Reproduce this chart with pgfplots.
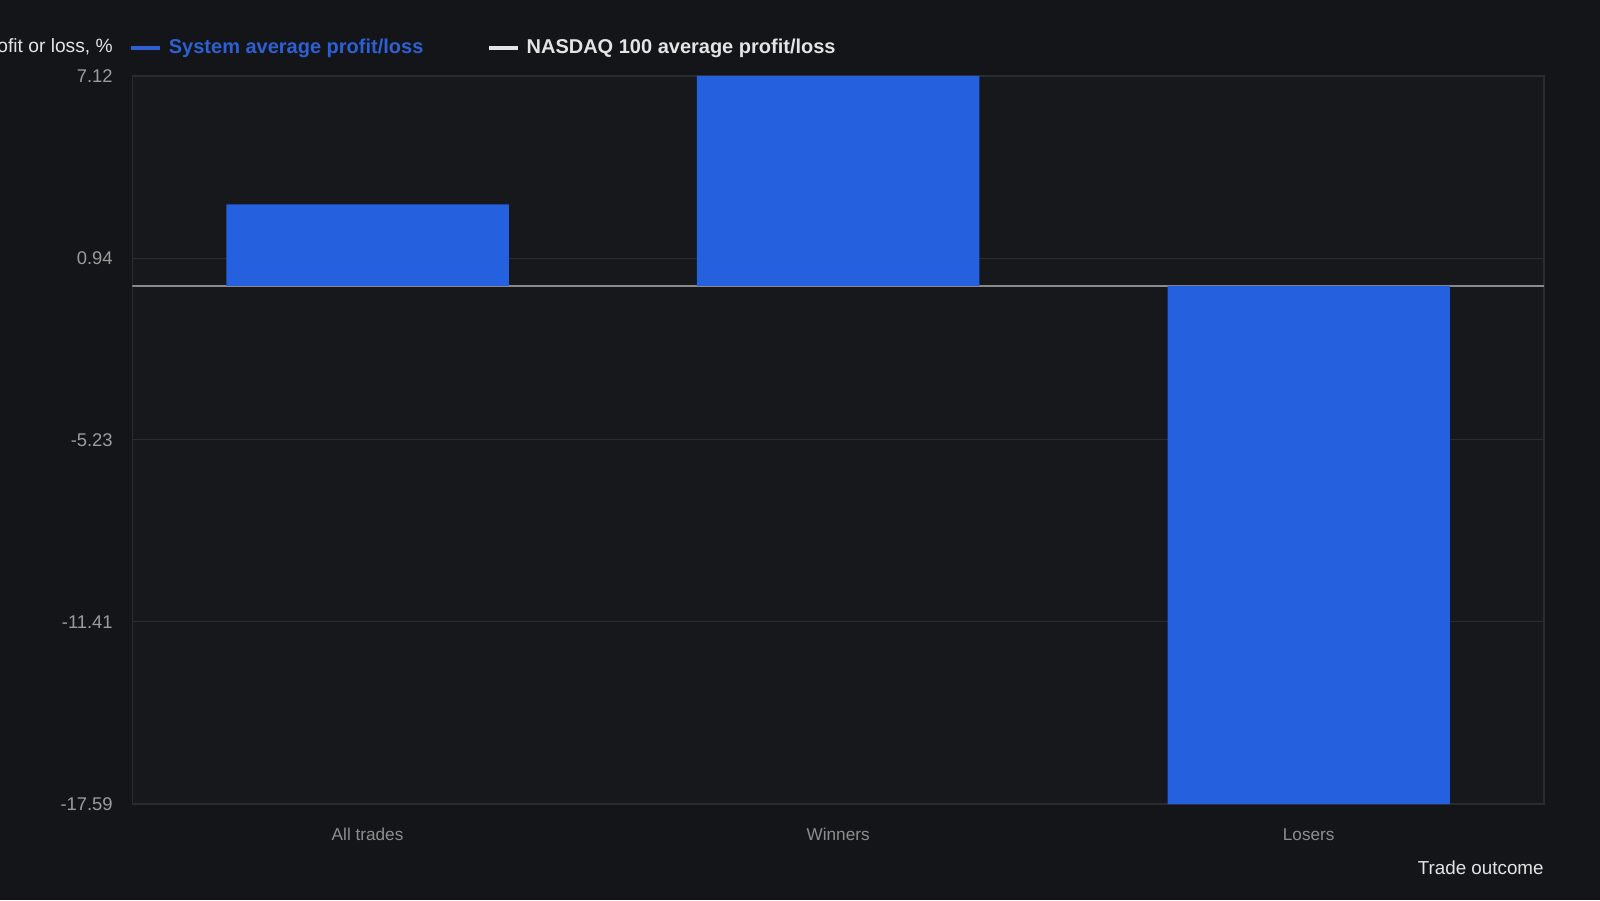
\documentclass[border=0pt]{standalone}
\usepackage{fontspec}
\setmainfont{Liberation Sans}
\usepackage{pgfplots}
\pgfplotsset{compat=1.18}

\definecolor{bg}{HTML}{131518}
\definecolor{plotbg}{HTML}{16181C}
\definecolor{gridc}{HTML}{2A2C30}
\definecolor{barblue}{HTML}{2560DE}
\definecolor{legblue}{HTML}{2D60D4}
\definecolor{ticktxt}{HTML}{9C9C9C}
\definecolor{xticktxt}{HTML}{8E8E8E}
\definecolor{labtxt}{HTML}{E4E4E4}
\definecolor{zeroc}{HTML}{8A8A8A}

\begin{document}
\begin{tikzpicture}
\useasboundingbox (0,0) rectangle (800pt,450pt);
\fill[bg] (0,0) rectangle (800pt,450pt);
\begin{axis}[
  at={(66.15pt,48pt)}, anchor=south west,
  scale only axis, width=705.85pt, height=364pt,
  xmin=-0.5, xmax=2.5,
  ymin=-17.59, ymax=7.12,
  xtick={0,1,2},
  xticklabels={All trades,Winners,Losers},
  ytick={7.12,0.94,-5.23,-11.41,-17.59},
  yticklabels={7.12,0.94,-5.23,-11.41,-17.59},
  major tick length=0pt,
  axis background/.style={fill=plotbg},
  axis line style={gridc, line width=0.6pt},
  ymajorgrids=true,
  grid style={gridc, line width=0.5pt},
  yticklabel style={anchor=east, inner sep=0pt, xshift=-9.6pt,
    text=ticktxt, font=\fontsize{9.2pt}{11pt}\selectfont},
  xticklabel style={anchor=base, inner sep=0pt, yshift=-18.3pt,
    text=xticktxt, font=\fontsize{8.6pt}{10pt}\selectfont},
  ylabel={Average profit or loss, \%},
  every axis y label/.style={at={(rel axis cs:0,1)}, anchor=east,
    inner sep=0pt, xshift=-9.6pt, yshift=14pt, text=labtxt,
    font=\fontsize{9.6pt}{11pt}\selectfont},
  xlabel={Trade outcome},
  every axis x label/.style={at={(rel axis cs:1,0)}, anchor=base east,
    inner sep=0pt, yshift=-35.2pt, text=labtxt,
    font=\fontsize{9.4pt}{11pt}\selectfont},
  legend columns=2,
  legend style={draw=none, fill=none, at={(rel axis cs:0,1)},
    anchor=west, xshift=-1.5pt, yshift=14pt, inner sep=0pt,
    nodes={inner sep=0pt},
    font=\bfseries\fontsize{10pt}{12pt}\selectfont,
    /tikz/every odd column/.append style={column sep=3.5pt},
    /tikz/every even column/.append style={column sep=32pt}},
]
% zero line
\addplot[zeroc, line width=1pt, forget plot] coordinates {(-0.5,0) (2.5,0)};

\addplot[ybar, bar width=0.6, fill=barblue, draw=none,
  legend image code/.code={\draw[legblue, line width=1.6pt] (0pt,0pt) -- (14.5pt,0pt);}]
  coordinates {(0,2.76) (1,7.12) (2,-17.59)};
\addlegendentry{\textcolor{legblue}{System average profit/loss}}

\addlegendimage{legend image code/.code={\draw[labtxt, line width=1.6pt] (0pt,0pt) -- (14.5pt,0pt);}}
\addlegendentry{\textcolor{labtxt}{NASDAQ 100 average profit/loss}}
\end{axis}
\end{tikzpicture}
\end{document}
